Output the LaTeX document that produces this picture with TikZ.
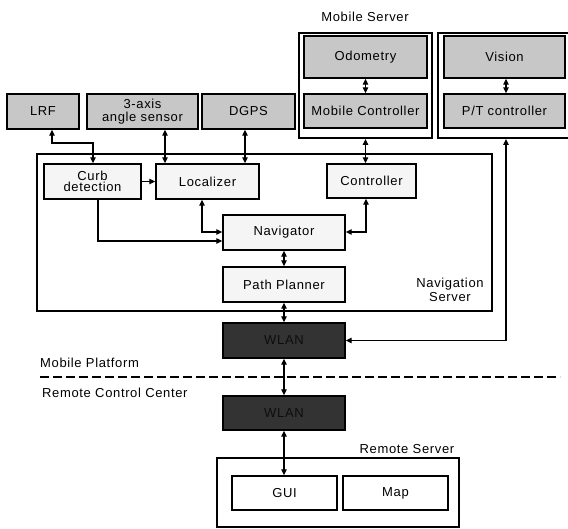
\documentclass[tikz,border=0pt]{standalone}
\usepackage{fontspec}
\setmainfont{Liberation Sans}[LetterSpace=5]
\usetikzlibrary{arrows.meta}
\tikzset{
  box/.style={draw=black, line width=1.4pt, rectangle, inner sep=0pt, align=center, font=\fontsize{13}{13.5}\selectfont},
  sensor/.style={box, fill=black!22},
  inner/.style={box, fill=black!4},
  plain/.style={box, fill=white},
  wlan/.style={box, fill=black!80, text=black!95},
  group/.style={draw=black, line width=2pt, rectangle, inner sep=0pt},
  lab/.style={font=\fontsize{13}{14.5}\selectfont, align=center, inner sep=0pt},
  conn/.style={line width=1.2pt, -{Triangle[length=6pt,width=5.5pt]}},
  bconn/.style={line width=1.2pt, {Triangle[length=6pt,width=5.5pt]}-{Triangle[length=6pt,width=5.5pt]}},
}
\begin{document}
\begin{tikzpicture}[x=1pt,y=-1pt]
\useasboundingbox (0,0) rectangle (568,529);
\clip (0,0) rectangle (568,529);
% group boxes
\node[group, minimum width=133pt, minimum height=105pt] (ms) at (365.5,85.5) {};
\node[group, minimum width=132pt, minimum height=105pt] (vs) at (504,85.5) {};
\node[group, minimum width=455pt, minimum height=157pt] (ns) at (264.5,232.5) {};
\node[group, minimum width=242pt, minimum height=69pt] (rs) at (338,492.5) {};
% labels
\node[lab] (lms) at (365,17) {Mobile Server};
\node[lab] (lns) at (450,290) {Navigation\\Server};
\node[lab, anchor=west] (lmp) at (40,363) {Mobile Platform};
\node[lab, anchor=west] (lrc) at (42,393) {Remote Control Center};
\node[lab] (lrs) at (407,449) {Remote Server};
% sensors
\node[sensor, minimum width=72pt, minimum height=35pt] (lrf) at (43,111.5) {LRF};
\node[sensor, minimum width=111pt, minimum height=35pt] (axis) at (142.5,111.5) {3-axis\\[-1pt]angle sensor};
\node[sensor, minimum width=93pt, minimum height=35pt] (dgps) at (248.5,111.5) {DGPS};
\node[sensor, minimum width=123pt, minimum height=42pt] (odo) at (365.5,57) {Odometry};
\node[sensor, minimum width=123pt, minimum height=34pt] (mc) at (365.5,111) {Mobile Controller};
\node[sensor, minimum width=121pt, minimum height=42pt] (vis) at (504.5,57) {Vision};
\node[sensor, minimum width=121pt, minimum height=34pt] (pt) at (504.5,111) {P/T controller};
% navigation server internals
\node[inner, minimum width=97pt, minimum height=35pt] (curb) at (92.5,181.5) {Curb\\[-2pt]detection};
\node[inner, minimum width=103pt, minimum height=35pt] (loc) at (207.5,181.5) {Localizer};
\node[inner, minimum width=89pt, minimum height=34pt] (ctl) at (371.5,181) {Controller};
\node[inner, minimum width=122pt, minimum height=35pt] (nav) at (284,232.5) {Navigator};
\node[inner, minimum width=122pt, minimum height=35pt] (pp) at (284,284.5) {Path Planner};
% WLAN
\node[wlan, minimum width=122pt, minimum height=35pt] (w1) at (284,340.5) {WLAN};
\node[wlan, minimum width=122pt, minimum height=34pt] (w2) at (284,413) {WLAN};
% remote
\node[plain, minimum width=105pt, minimum height=34pt] (gui) at (284.5,493) {GUI};
\node[plain, minimum width=105pt, minimum height=34pt] (map) at (395.5,493) {Map};
% dashed separator
\coordinate (dl) at (40,377);
\coordinate (dr) at (560,377);
\draw[line width=2pt, dash pattern=on 9pt off 4pt] (dl) -- (dr);
% connectors
\draw[bconn] (lrf.south -| 52,0) |- (93,143) -- (curb.north -| 93,0);
\draw[bconn] (axis.south -| 165,0) -- (loc.north -| 165,0);
\draw[bconn] (dgps.south -| 245,0) -- (loc.north -| 245,0);
\draw[bconn] (odo.south) -- (mc.north);
\draw[bconn] (vis.south -| 506,0) -- (pt.north -| 506,0);
\draw[bconn] (ms.south) -- (ctl.north -| ms.south);
\draw[bconn] (vs.south -| 506,0) |- (w1.east);
\draw[conn] (curb.east) -- (loc.west);
\draw[bconn] (loc.south -| 202,0) |- (nav.west |- 0,232);
\draw[conn] (curb.south -| 98,0) |- (nav.west |- 0,241);
\draw[bconn] (ctl.south -| 366,0) |- (nav.east |- 0,232);
\draw[bconn] (nav.south) -- (pp.north);
\draw[bconn] (pp.south) -- (w1.north);
\draw[bconn] (w1.south) -- (w2.north);
\draw[bconn] (w2.south) -- (gui.north -| w2.south);
\end{tikzpicture}
\end{document}
